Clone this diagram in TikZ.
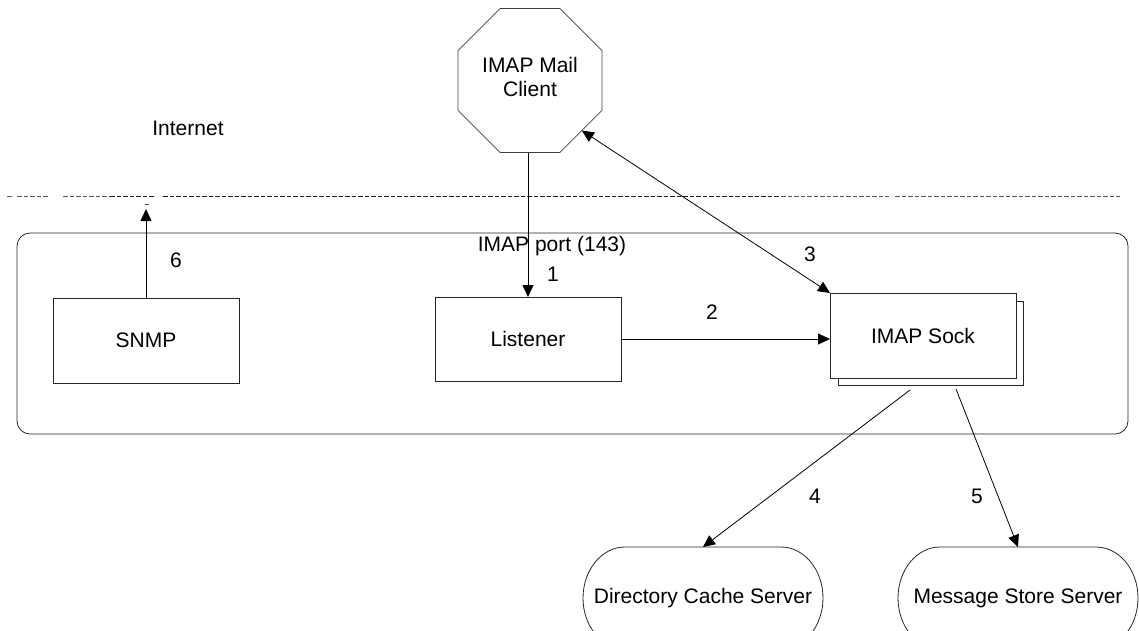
\documentclass[tikz,border=0pt]{standalone}
\usepackage{fontspec}
\setmainfont{Liberation Sans}
\usetikzlibrary{shapes.geometric,arrows.meta}
\begin{document}
\begin{tikzpicture}[x=1pt,y=-1pt,
  line width=0.8pt,
  font=\fontsize{21}{24}\selectfont,
  box/.style={draw=black!85, rectangle, minimum width=186pt, minimum height=85pt,
    inner sep=0pt, outer sep=0pt, fill=white},
  server/.style={rectangle, minimum width=240pt, minimum height=102pt, inner sep=0pt, outer sep=0pt},
  arr/.style={-{Triangle[length=12pt,width=11pt]}},
  darr/.style={{Triangle[length=12pt,width=11pt]}-{Triangle[length=12pt,width=11pt]}},
  lbl/.style={inner sep=0pt},
  border/.style={dash pattern=on 4.5pt off 2pt, line width=0.8pt}
]
\useasboundingbox (0,0) rectangle (1139,630);
\clip (0,0) rectangle (1139,630);

% Internet boundary
\draw[border, black!65] (7,196.5) -- (12,196.5);
\draw[border, black!65] (17,196.5) -- (48,196.5);
\draw[border, black!65] (63,196.5) -- (110,196.5);
\draw[border, black!90] (110,196.5) -- (155,196.5);
\draw[border, black!90] (163,196.5) -- (781,196.5);
\draw[border, black!65] (781,196.5) -- (889,196.5);
\draw[border, black!65] (895,196.5) -- (1120,196.5);
\draw[line width=0.7pt, black!70] (144.5,204.5) -- (148.5,204.5);

\node[lbl] (internet) at (188,128) {Internet};

% server host
\node[draw=black!85, rounded corners=13pt, minimum width=1111pt, minimum height=201pt,
  inner sep=0pt, outer sep=0pt] (host) at (572.5,333.5) {};
\node[lbl] (port) at (552,246) {IMAP port (143)};

% client
\node[regular polygon, regular polygon sides=8, draw=black!75, minimum size=156pt,
  inner sep=0pt, outer sep=0pt] (mail) at (530,80.5) {};
\node[lbl, align=center] (mailtext) at (530,77) {IMAP Mail\\Client};

% processes
\node[box] (snmp) at (146,340.5) {SNMP};
\node[box, minimum height=84pt] (listener) at (528,339) {Listener};
\node[box, minimum width=185pt, minimum height=84pt] (sockback) at (930.5,343) {};
\node[box] (sock) at (923,335.5) {IMAP Sock};

% back-end servers
\node[server] (dir) at (703,598) {Directory Cache Server};
\node[server] (msg) at (1018,598) {Message Store Server};
\foreach \s in {dir,msg}{
  \draw[black!85] ([xshift=42pt]\s.north west) -- ([xshift=-42pt]\s.north east)
    arc[start angle=90, end angle=-90, x radius=42pt, y radius=51pt]
    -- ([xshift=42pt]\s.south west)
    arc[start angle=-90, end angle=-270, x radius=42pt, y radius=51pt] -- cycle;
}

% connectors
\coordinate (top6) at (146,209);
\coordinate (out4) at (910,390);
\coordinate (out5) at (956,389);
\draw[arr] (listener.north |- mail.south) -- (listener.north);
\draw[arr] (listener.east) -- (listener.east -| sock.west);
\draw[darr] (mail.-44) -- (sock.north west);
\draw[arr] (out4) -- (dir.north);
\draw[arr] (out5) -- (msg.north);
\draw[arr] (snmp.north) -- (top6);

% step numbers
\node[lbl] (n1) at (553,274) {1};
\node[lbl] (n2) at (712,312) {2};
\node[lbl] (n3) at (810,254) {3};
\node[lbl] (n4) at (815,496) {4};
\node[lbl] (n5) at (977,496) {5};
\node[lbl] (n6) at (176,260) {6};
\end{tikzpicture}
\end{document}
